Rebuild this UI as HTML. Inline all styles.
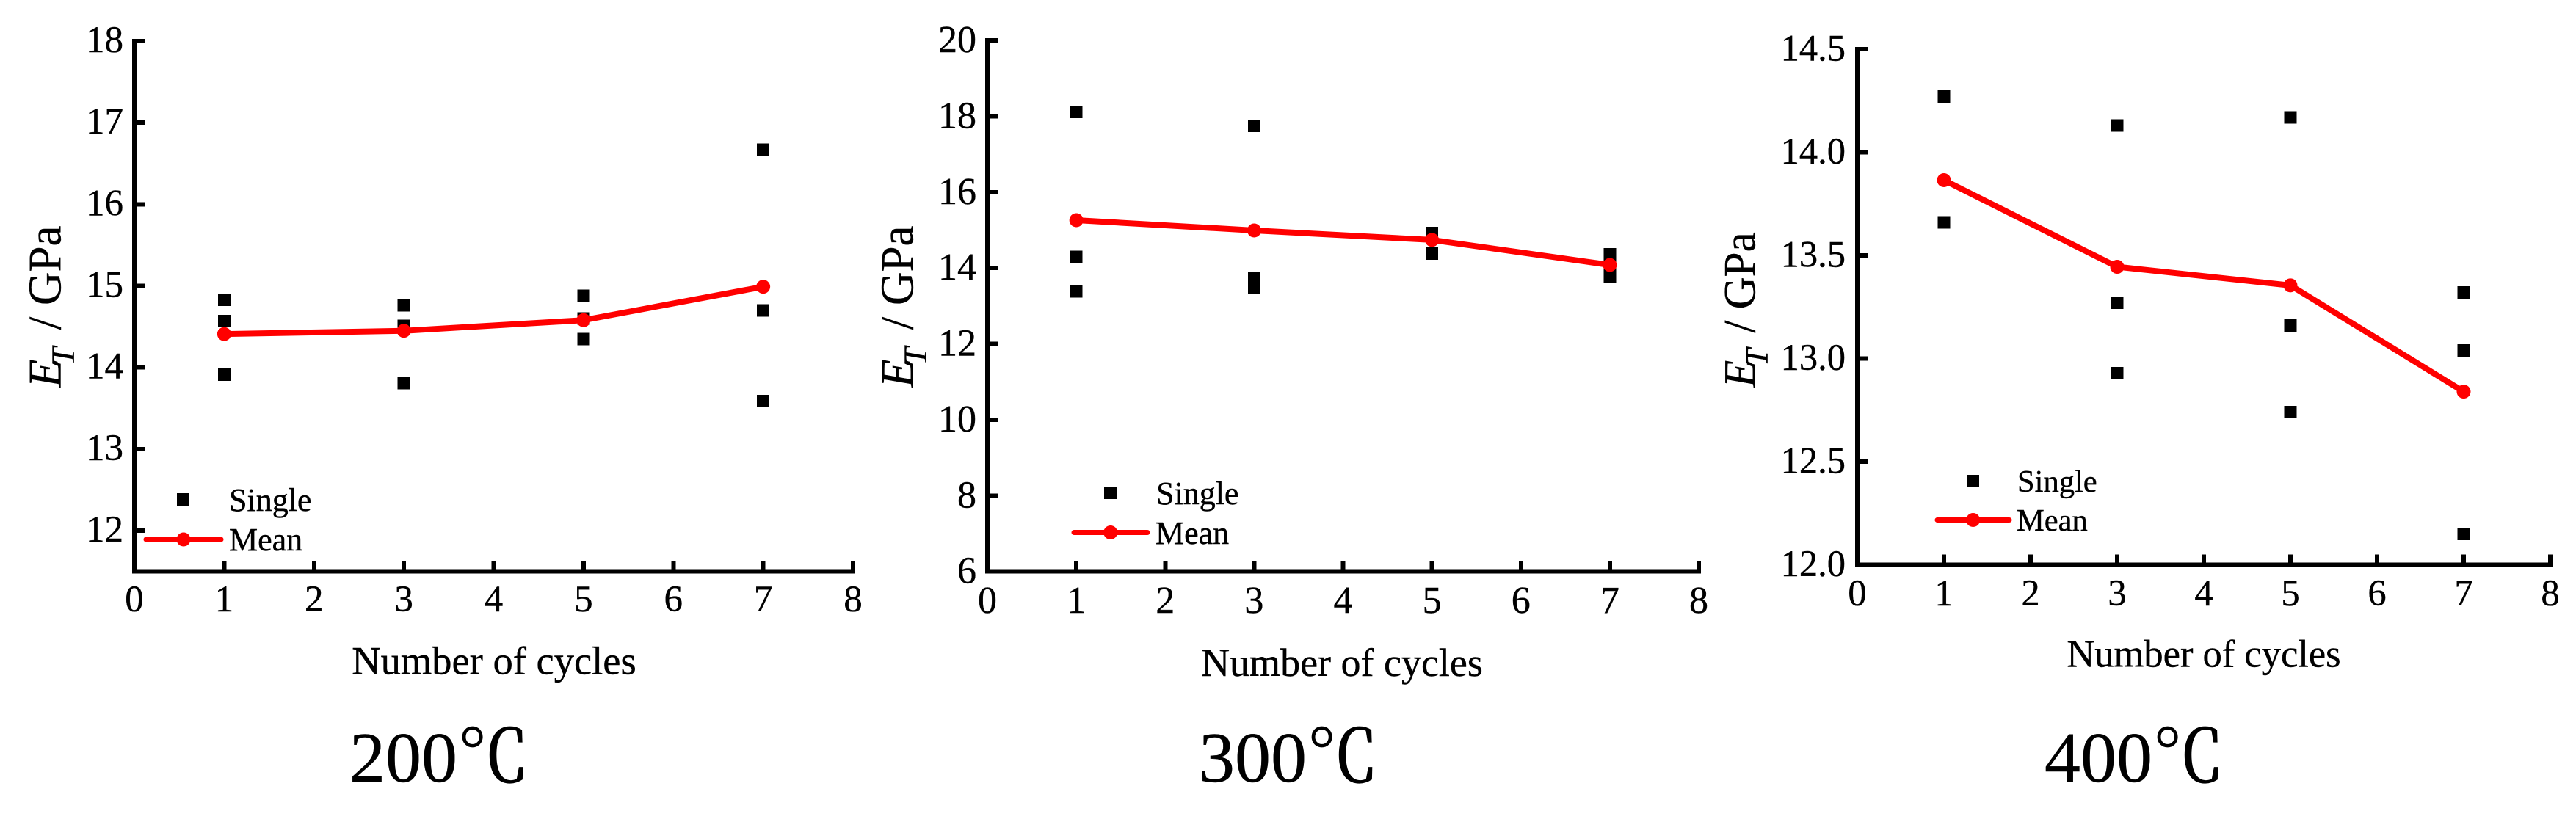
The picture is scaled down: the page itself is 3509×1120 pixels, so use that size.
<!DOCTYPE html>
<html lang="en">
<head>
<meta charset="utf-8">
<title>Transverse modulus vs number of cycles</title>
<style>
html,body{margin:0;padding:0;background:#fff;width:3509px;height:1120px;overflow:hidden}
svg{display:block}
text{font-family:"Liberation Serif","Noto Serif CJK SC",serif;fill:#000;stroke:#000;stroke-width:0.4px}
.crisp{shape-rendering:crispEdges}
</style>
</head>
<body>
<svg id="figure" xmlns="http://www.w3.org/2000/svg" width="3509" height="1120" viewBox="0 0 3509 1120">
  <rect x="0" y="0" width="3509" height="1120" fill="#fff"/>

  <g id="panel-200">
    <text x="673" y="918.5" font-size="54.5" text-anchor="middle">Number of cycles</text>
    <text transform="translate(82.5,528) rotate(-90)" font-size="63"><tspan font-style="italic">E</tspan><tspan font-style="italic" font-size="44" dx="-8" dy="18">T</tspan><tspan dy="-18" dx="8"> / GPa</tspan></text>
    <text x="476" y="1065" font-size="98">200<tspan style="stroke-width:1.2px">℃</tspan></text>
    <rect class="crisp" x="241" y="672" width="17" height="17" fill="#000"/>
    <text x="312" y="696" font-size="44">Single</text>
    <line x1="199" y1="735" x2="301" y2="735" stroke="#f00" stroke-width="7" stroke-linecap="round"/>
    <circle cx="250" cy="735" r="9.5" fill="#f00"/>
    <text x="312" y="750" font-size="44">Mean</text>
  </g>

  <g id="panel-300">
    <text x="1828" y="921" font-size="54" text-anchor="middle">Number of cycles</text>
    <text transform="translate(1243.5,528) rotate(-90)" font-size="63"><tspan font-style="italic">E</tspan><tspan font-style="italic" font-size="44" dx="-8" dy="18">T</tspan><tspan dy="-18" dx="8"> / GPa</tspan></text>
    <text x="1633" y="1065" font-size="98">300<tspan style="stroke-width:1.2px">℃</tspan></text>
    <rect class="crisp" x="1504" y="663" width="17" height="17" fill="#000"/>
    <text x="1575" y="687" font-size="44">Single</text>
    <line x1="1463" y1="725.5" x2="1563" y2="725.5" stroke="#f00" stroke-width="7" stroke-linecap="round"/>
    <circle cx="1512.7" cy="725.5" r="9.5" fill="#f00"/>
    <text x="1574" y="741" font-size="44">Mean</text>
  </g>

  <g id="panel-400">
    <text x="3002" y="908.5" font-size="52.5" text-anchor="middle">Number of cycles</text>
    <text transform="translate(2390.7,528) rotate(-90)" font-size="61"><tspan font-style="italic">E</tspan><tspan font-style="italic" font-size="43" dx="-8" dy="17">T</tspan><tspan dy="-17" dx="6"> / GPa</tspan></text>
    <text x="2785" y="1065" font-size="98">400<tspan style="stroke-width:1.2px">℃</tspan></text>
    <rect class="crisp" x="2680" y="647" width="16" height="16" fill="#000"/>
    <text x="2748" y="670" font-size="42.5">Single</text>
    <line x1="2639" y1="708.5" x2="2737" y2="708.5" stroke="#f00" stroke-width="7" stroke-linecap="round"/>
    <circle cx="2687.7" cy="708.5" r="9.5" fill="#f00"/>
    <text x="2747" y="723" font-size="42.5">Mean</text>
  </g>
</svg>

<script>
/* Shared x axis */
const cycles = [1, 3, 5, 7];
const xTickLabels = ['0', '1', '2', '3', '4', '5', '6', '7', '8'];
const xTickValues = [0, 1, 2, 3, 4, 5, 6, 7, 8];
const xDomain = [0, 8];

/* 200 C panel */
const yDomain200 = [11.5, 18];
const yTickValues200 = [12, 13, 14, 15, 16, 17, 18];
const yTickLabels200 = ['12', '13', '14', '15', '16', '17', '18'];
const singles200 = [
  [14.83, 14.57, 13.91],
  [14.76, 14.51, 13.81],
  [14.88, 14.60, 14.35],
  [16.67, 14.70, 13.59]
];
const means200 = [14.41, 14.45, 14.58, 14.99];

/* 300 C panel */
const yDomain300 = [6, 20];
const yTickValues300 = [6, 8, 10, 12, 14, 16, 18, 20];
const yTickLabels300 = ['6', '8', '10', '12', '14', '16', '18', '20'];
const singles300 = [
  [18.11, 14.29, 13.38],
  [17.75, 13.72, 13.49],
  [14.92, 14.86, 14.38],
  [14.36, 14.10, 13.78]
];
const means300 = [15.26, 14.99, 14.74, 14.08];

/* 400 C panel */
const yDomain400 = [12, 14.5];
const yTickValues400 = [12, 12.5, 13, 13.5, 14, 14.5];
const yTickLabels400 = ['12.0', '12.5', '13.0', '13.5', '14.0', '14.5'];
const singles400 = [
  [14.27, 13.66, 13.66],
  [14.13, 13.27, 12.93],
  [14.17, 13.16, 12.74],
  [13.32, 13.04, 12.15]
];
const means400 = [13.865, 13.445, 13.355, 12.84];

const SVG_NS = 'http://www.w3.org/2000/svg';

function make(parent, tag, attrs) {
  const el = document.createElementNS(SVG_NS, tag);
  for (const k in attrs) el.setAttribute(k, attrs[k]);
  parent.appendChild(el);
  return el;
}

function drawPanel(id, suffix, frame, yDomain, yTickValues, yTickLabels, singles, means) {
  const root = document.getElementById(id);
  const xScale = v => frame.left + (v - xDomain[0]) / (xDomain[1] - xDomain[0]) * (frame.right - frame.left);
  const yScale = v => frame.bottom - (v - yDomain[0]) / (yDomain[1] - yDomain[0]) * (frame.bottom - frame.top);

  /* axes */
  const yAxis = make(root, 'rect', {x: frame.left - 3, y: frame.top - 3, width: 6, height: frame.bottom - frame.top + 6, fill: '#000', class: 'crisp'});
  
  
  const xAxis = make(root, 'rect', {x: frame.left - 3, y: frame.bottom - 3, width: frame.right - frame.left + 6, height: 6, fill: '#000', class: 'crisp'});
  
  

  /* x ticks and labels */
  xTickValues.forEach((v, i) => {
    const tick = make(root, 'rect', {x: xScale(v) - 3, y: frame.bottom - frame.tick, width: 6, height: frame.tick, fill: '#000', class: 'crisp'});
    
    
    const label = make(root, 'text', {x: xScale(v), y: frame.xLabelY, 'font-size': frame.tickFont, 'text-anchor': 'middle'});
    label.textContent = xTickLabels[i];
    
    
  });

  /* y ticks and labels */
  yTickValues.forEach((v, i) => {
    const tick = make(root, 'rect', {x: frame.left - 3, y: yScale(v) - 3, width: 18, height: 6, fill: '#000', class: 'crisp'});
    
    
    const label = make(root, 'text', {x: frame.yLabelX, y: yScale(v) + frame.yLabelOffset, 'font-size': frame.tickFont, 'text-anchor': 'end'});
    label.textContent = yTickLabels[i];
    
    
  });

  /* single-specimen points */
  cycles.forEach((c, i) => {
    singles[i].forEach(v => {
      const s = make(root, 'rect', {x: xScale(c) - 8.5, y: yScale(v) - 8.5, width: 17, height: 17, fill: '#000', class: 'crisp'});
      
      
    });
  });

  /* mean line and markers */
  const pts = cycles.map((c, i) => xScale(c) + ',' + yScale(means[i])).join(' ');
  const line = make(root, 'polyline', {points: pts, fill: 'none', stroke: '#f00', 'stroke-width': 8, 'stroke-linejoin': 'round'});
  
  
  cycles.forEach((c, i) => {
    const m = make(root, 'circle', {cx: xScale(c), cy: yScale(means[i]), r: 9.5, fill: '#f00'});
    
    
  });
}

drawPanel('panel-200', '200c',
  {left: 183, right: 1162, top: 56, bottom: 778.7, tick: 14, xLabelY: 833, yLabelX: 168, yLabelOffset: 15, tickFont: 51},
  yDomain200, yTickValues200, yTickLabels200, singles200, means200);
drawPanel('panel-300', '300c',
  {left: 1345, right: 2314, top: 55, bottom: 778.7, tick: 14, xLabelY: 835, yLabelX: 1330, yLabelOffset: 16, tickFont: 52},
  yDomain300, yTickValues300, yTickLabels300, singles300, means300);
drawPanel('panel-400', '400c',
  {left: 2530, right: 3474, top: 67, bottom: 769.7, tick: 14, xLabelY: 825, yLabelX: 2514, yLabelOffset: 15.5, tickFont: 50.5},
  yDomain400, yTickValues400, yTickLabels400, singles400, means400);
</script>
</body>
</html>
